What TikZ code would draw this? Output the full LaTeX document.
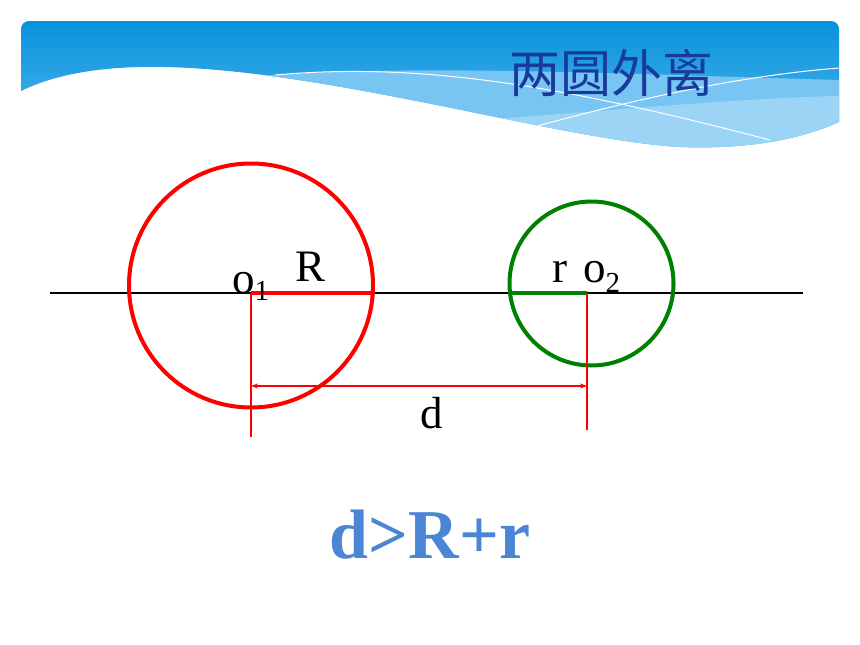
\documentclass[tikz,border=0pt]{standalone}
\usepackage{fontspec}
\setmainfont{Liberation Serif}
\newfontfamily\cjk{Noto Sans CJK SC}
\usetikzlibrary{arrows.meta}
\definecolor{hdrtop}{RGB}{8,146,221}
\definecolor{hdrbot}{RGB}{95,188,240}
\definecolor{band1}{RGB}{120,196,242}
\definecolor{band2}{RGB}{165,216,248}
\definecolor{titleblue}{RGB}{24,58,156}
\definecolor{myred}{RGB}{255,0,0}
\definecolor{mygreen}{RGB}{0,128,0}
\definecolor{formblue}{RGB}{74,134,212}
\tikzset{
  lbl/.style={font=\fontsize{45}{50}\selectfont, inner sep=0pt, anchor=base west},
  bigcircle/.style={circle, draw, line width=4pt, inner sep=0pt},
  radius line/.style={line width=3.5pt},
  dimline/.style={draw=myred, line width=1.2pt},
  wline/.style={draw=white, line width=1pt}
}
\begin{document}
\begin{tikzpicture}[x=1pt,y=-1pt]
\useasboundingbox (0,0) rectangle (860,645);
% header
\begin{scope}
  \clip (21,91) [rounded corners=8pt]-- (21,21) -- (839,21) [sharp corners]-- (839,122)
     .. controls (810,135) and (760,150) .. (680,147)
     .. controls (560,140) and (330,70) .. (163,67)
     .. controls (110,66) and (60,72) .. (21,91) -- cycle;
  \shade[top color=hdrtop, bottom color=hdrbot] (21,21) rectangle (839,160);
  \fill[band1] (260,76) .. controls (420,64) and (620,74) .. (839,80) -- (839,170) -- (21,170) -- cycle;
  \fill[band2, opacity=0.8] (480,120) .. controls (620,110) and (740,98) .. (839,96) -- (839,170) -- (480,170) -- cycle;
  \draw[wline] (275,75) .. controls (420,62) and (560,85) .. (770,140);
  \draw[wline] (530,128) .. controls (650,95) and (750,75) .. (839,68);
\end{scope}
\node[font=\cjk\fontsize{51}{56}\selectfont, text=titleblue, inner sep=0pt] (title) at (611,73) {两圆外离};
% axis
\coordinate (axL) at (50,293);
\coordinate (axR) at (803,293);
\draw[line width=1.3pt] (axL) -- (axR);
% circles
\node[bigcircle, draw=myred, minimum size=244pt] (C1) at (251,285.5) {};
\node[bigcircle, draw=mygreen, minimum size=164pt] (C2) at (591.5,283.5) {};
% centres
\coordinate (O1) at (251,293);
\coordinate (O2) at (587,293);
\coordinate (R1end) at (373,293);
\coordinate (R2end) at (510,293);
\draw[radius line, draw=myred] (O1) -- (R1end);
\draw[radius line, draw=mygreen] (R2end) -- (O2);
% dimension lines
\coordinate (V1) at (251,437);
\coordinate (V2) at (587,430);
\draw[dimline] (O1) -- (V1);
\draw[dimline] (O2) -- (V2);
\coordinate (A1) at (251,386);
\coordinate (A2) at (587,386);
\draw[dimline, {Stealth[length=7pt,width=5pt]}-{Stealth[length=7pt,width=5pt]}] (A1) -- (A2);
% labels
\node[lbl] (o1) at (232,293) {o\raisebox{-7pt}{\fontsize{29}{29}\selectfont 1}};
\node[lbl] (Rl) at (295,281) {R};
\node[lbl] (rl) at (552,282) {r};
\node[lbl] (o2) at (583,282) {o\raisebox{-10pt}{\fontsize{29}{29}\selectfont 2}};
\node[lbl] (dl) at (420,428) {d};
% formula
\node[font=\fontsize{70}{80}\selectfont\bfseries, text=formblue, inner sep=0pt, anchor=base] (formula) at (430,558) {d>R+r};
\end{tikzpicture}
\end{document}
